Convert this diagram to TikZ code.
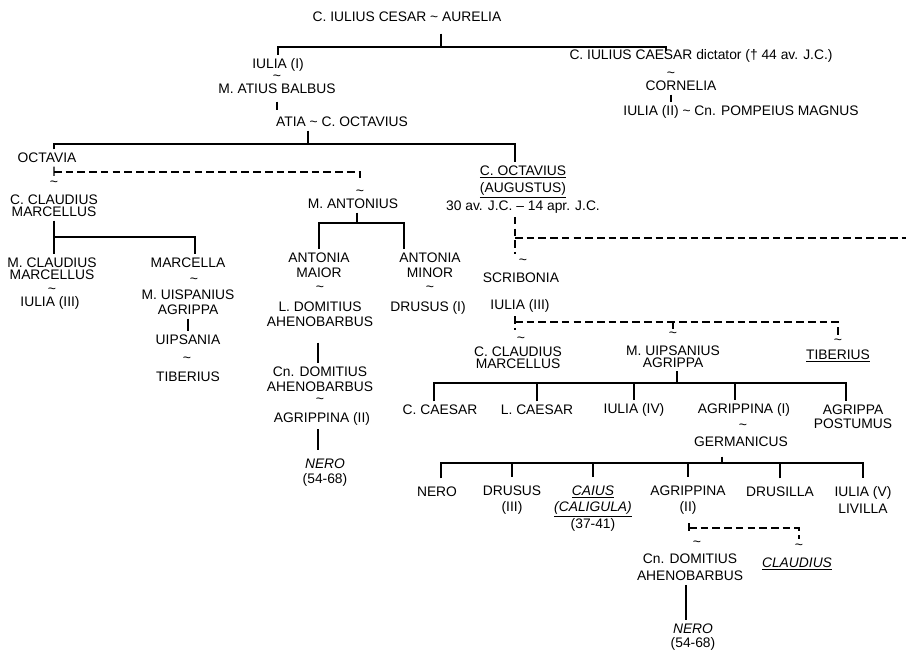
\documentclass[tikz,border=0pt]{standalone}
\usepackage{fontspec}
\setmainfont{Liberation Sans}

\begin{document}
\begin{tikzpicture}[x=0.03cm,y=-0.03cm,
    person/.style={font=\fontsize{11.8}{14.5}\selectfont, align=center, inner xsep=1pt, inner ysep=3pt},
    lead/.style={font=\fontsize{11.8}{#1}\selectfont},
    wed/.style={font=\fontsize{12}{12}\selectfont, inner sep=0pt},
    kin/.style={line width=1pt},
    union/.style={line width=1pt, dash pattern=on 6.5pt off 3.5pt}]
    \useasboundingbox (0,0) rectangle (906,653);

    \node[person] (cesar) at (407,17) {C. IULIUS CESAR \textasciitilde{} AURELIA};
    \node[person] (iulia1) at (278,65) {IULIA (I)};
    \node[wed] (w1) at (277,78) {\textasciitilde};
    \node[person] (balbus) at (277,89) {M. ATIUS BALBUS};
    \node[person] (atia) at (342,122) {ATIA \textasciitilde{} C. OCTAVIUS};
    \node[person] (dictator) at (701,56) {C. IULIUS CAESAR dictator († 44 av. J.C.)};
    \node[wed] (w2) at (671,75) {\textasciitilde};
    \node[person] (cornelia) at (681,86) {CORNELIA};
    \node[person] (iulia2) at (741,112) {IULIA (II) \textasciitilde{} Cn. POMPEIUS MAGNUS};

    \node[person] (octavia) at (47,158) {OCTAVIA};
    \node[wed] (w3) at (54,184) {\textasciitilde};
    \node[person, lead=10.2] (marcellus1) at (54,206) {C. CLAUDIUS\\MARCELLUS};
    \node[wed] (w4) at (360,193) {\textasciitilde};
    \node[person] (antonius) at (353,204) {M. ANTONIUS};
    \node[person, lead=14.8] (augustus) at (523,189.5) {\underline{C. OCTAVIUS}\\\underline{(AUGUSTUS)}\\30 av. J.C. -- 14 apr. J.C.};

    \node[person, lead=10.2] (marcellus2) at (52,269) {M. CLAUDIUS\\MARCELLUS};
    \node[wed] (w5) at (52,291) {\textasciitilde};
    \node[person] (iulia3a) at (50,303) {IULIA (III)};
    \node[person] (marcella) at (188,263) {MARCELLA};
    \node[wed] (w6) at (194,281) {\textasciitilde};
    \node[person, lead=12.8] (agrippa1) at (188,302.5) {M. UISPANIUS\\AGRIPPA};
    \node[person] (uipsania) at (188,340) {UIPSANIA};
    \node[wed] (w7) at (187,360) {\textasciitilde};
    \node[person] (tiberius1) at (188,377) {TIBERIUS};

    \node[person, lead=12.8] (maior) at (319,265) {ANTONIA\\MAIOR};
    \node[wed] (w8) at (320,289) {\textasciitilde};
    \node[person, lead=12.8] (domitius1) at (320,314.5) {L. DOMITIUS\\AHENOBARBUS};
    \node[person, lead=12.8] (domitius2) at (320,379.5) {Cn. DOMITIUS\\AHENOBARBUS};
    \node[wed] (w9) at (320,401) {\textasciitilde};
    \node[person] (agrippina2a) at (322,419) {AGRIPPINA (II)};
    \node[person, lead=12.8] (nero1) at (325,473) {\textit{NERO}\\(54-68)};
    \node[person, lead=12.8] (minor) at (430,265) {ANTONIA\\MINOR};
    \node[wed] (w10) at (430,289) {\textasciitilde};
    \node[person] (drusus1) at (428,308) {DRUSUS (I)};

    \node[wed] (w11) at (523,262) {\textasciitilde};
    \node[person] (scribonia) at (521,278) {SCRIBONIA};
    \node[person] (iulia3b) at (520,306) {IULIA (III)};
    \node[wed] (w12) at (521,340) {\textasciitilde};
    \node[person, lead=9.8] (marcellus3) at (518,357.5) {C. CLAUDIUS\\MARCELLUS};
    \node[wed] (w13) at (673,335) {\textasciitilde};
    \node[person, lead=10.4] (agrippa2) at (673,356.5) {M. UIPSANIUS\\AGRIPPA};
    \node[wed] (w14) at (838,342) {\textasciitilde};
    \node[person] (tiberius2) at (838,356) {\underline{TIBERIUS}};

    \node[person] (gaius) at (440,410) {C. CAESAR};
    \node[person] (lucius) at (537,410) {L. CAESAR};
    \node[person] (iulia4) at (634,410) {IULIA (IV)};
    \node[person] (agrippina1) at (744,410) {AGRIPPINA (I)};
    \node[person, lead=12] (postumus) at (853,417) {AGRIPPA\\POSTUMUS};
    \node[wed] (w15) at (743,427) {\textasciitilde};
    \node[person] (germanicus) at (741,442) {GERMANICUS};

    \node[person] (nero2) at (437,492) {NERO};
    \node[person, lead=14] (drusus3) at (512,500) {DRUSUS\\(III)};
    \node[person, lead=14] (caligula) at (593,508.5) {\underline{\textit{CAIUS}}\\\underline{\textit{(CALIGULA)}}\\(37-41)};
    \node[person, lead=14] (agrippina2b) at (688,500) {AGRIPPINA\\(II)};
    \node[person] (drusilla) at (780,492) {DRUSILLA};
    \node[person, lead=14] (iulia5) at (863,500) {IULIA (V)\\LIVILLA};
    \node[wed] (w16) at (697,544) {\textasciitilde};
    \node[person, lead=14.7] (domitius3) at (690,567.5) {Cn. DOMITIUS\\AHENOBARBUS};
    \node[wed] (w17) at (799,547) {\textasciitilde};
    \node[person] (claudius) at (797,564) {\underline{\textit{CLAUDIUS}}};
    \node[person, lead=12.2] (nero3) at (693,637) {\textit{NERO}\\(54-68)};

    \coordinate (b1) at (441,47);
    \coordinate (b1r) at (666,51);
    \coordinate (b2) at (308,144);
    \coordinate (o1) at (54,172);
    \coordinate (b3) at (54,237);
    \coordinate (b4) at (357,223);
    \coordinate (a1) at (515,238);
    \coordinate (edge) at (906,238);
    \coordinate (i1) at (515,322);
    \coordinate (b5) at (677,383);
    \coordinate (b6) at (722,463);
    \coordinate (g1) at (689,528);

    \draw[kin, shorten <=0.24cm] (cesar.south -| b1) -- (b1);
    \draw[kin] (iulia1.north) |- (b1) -| (b1r);
    \draw[kin, shorten <=0.12cm, shorten >=0.09cm] (balbus.south) -- (balbus.south |- atia.north);
    \draw[kin] (atia.south -| b2) -- (b2);
    \draw[kin] ([xshift=0.21cm]octavia.north) |- (b2) -| ([xshift=-0.24cm]augustus.north);
    \draw[kin] (w2 |- cornelia.south) -- (w2 |- iulia2.north);

    \draw[kin, shorten >=0.15cm] ([xshift=0.21cm]octavia.south) -- (w3.north -| o1);
    \draw[union, shorten >=0.24cm] (o1) -| (w4.north);
    \draw[kin] (marcellus1.south) -- (marcellus1.south |- marcellus2.north);
    \draw[kin] (b3) -| ([xshift=0.21cm]marcella.north);
    \draw[kin] (agrippa1.south) -- (uipsania.north);

    \draw[kin] (antonius.south -| b4) -- (b4);
    \draw[kin] (maior.north) |- (b4) -| ([xshift=-0.78cm]minor.north);
    \draw[kin, shorten <=0.36cm] ([xshift=-0.06cm]domitius1.south) -- ([xshift=-0.06cm]domitius2.north);
    \draw[kin, shorten >=0.15cm] ([xshift=-0.12cm]agrippina2a.south) -- ([xshift=-0.12cm]agrippina2a.south |- nero1.north);

    \draw[union, shorten >=0.15cm] (a1 |- augustus.south) -- (a1 |- w11.north);
    \draw[union] (a1) -- (edge);
    \draw[union, shorten >=0.2cm] (i1 |- iulia3b.south) -- (i1 |- w12.north);
    \draw[union, shorten >=0.1cm] (i1) -| (w14.north);
    \draw[union, shorten >=0.1cm] (i1 -| w13.north) -- (w13.north);

    \draw[kin] (agrippa2.south -| b5) -- (b5);
    \draw[kin] ([xshift=-0.18cm]gaius.north) |- (b5) -| ([xshift=-0.21cm]postumus.north);
    \foreach \k in {lucius,iulia4}
        \draw[kin] (\k.north) |- (b5);
    \draw[kin] ([xshift=-0.27cm]agrippina1.north) |- (b5);

    \draw[kin, shorten <=0.18cm] (germanicus.south -| b6) -- (b6);
    \draw[kin, shorten <=0.15cm, shorten >=0.15cm] ([xshift=0.12cm]nero2.north) |- (b6) -| (iulia5.north);
    \foreach \k in {drusus3,caligula,agrippina2b,drusilla}
        \draw[kin, shorten <=0.15cm] (\k.north) |- (b6);

    \draw[union, shorten <=0.15cm, shorten >=0.2cm] (g1 |- agrippina2b.south) -- (g1 |- w16.north);
    \draw[union, shorten >=0.15cm] (g1) -| (w17.north);
    \draw[kin] ([xshift=-0.12cm]domitius3.south) -- ([xshift=-0.12cm]domitius3.south |- nero3.north);
\end{tikzpicture}
\end{document}
